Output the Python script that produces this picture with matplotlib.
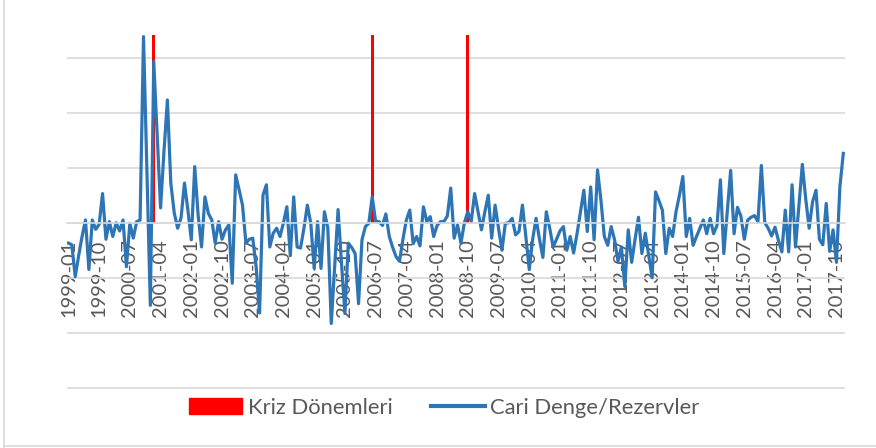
import numpy as np
import pandas as pd
import matplotlib
matplotlib.use("Agg")
import matplotlib.pyplot as plt
from matplotlib.lines import Line2D
from matplotlib.patches import Patch

# monthly categories 1999-01 .. 2017-12
months = pd.period_range("1999-01", "2017-12", freq="M").strftime("%Y-%m").tolist()

# Cari Denge/Rezervler (one gridline = 1)
cari_1999_2004 = [
    -0.37, -0.40, -0.98, -0.60, -0.25, 0.05, -0.85, 0.05, -0.12, -0.03, 0.53, -0.30,
    0.02, -0.25, 0.00, -0.15, 0.05, -0.80, -0.01, -0.28, 0.02, 0.05, 3.38, 0.90,
    -1.50, 2.93, 1.60, 0.27, 1.30, 2.23, 0.72, 0.18, -0.10, 0.09, 0.72, 0.23,
    -0.31, 1.02, 0.14, -0.44, 0.47, 0.17, 0.05, -0.37, 0.02, -0.30, -0.13, -0.04,
    -1.10, 0.87, 0.60, 0.32, -0.37, -0.30, -0.28, -0.80, -1.64, 0.50, 0.69, -0.44,
    -0.19, -0.10, -0.25, 0.00, 0.29, -0.60, 0.47, -0.44, -0.46, -0.10, 0.32, -0.01,
]
cari_2005_2010 = [
    -0.83, 0.02, -0.83, 0.20, -0.10, -1.83, -0.80, 0.24, -0.74, -1.65, -0.37, -0.45,
    -0.56, -1.47, -0.31, -0.07, -0.01, 0.47, 0.02, 0.02, -0.05, 0.16, -0.25, -0.45,
    -0.62, -0.70, -0.30, 0.05, 0.23, -0.38, -0.25, -0.42, 0.29, 0.02, 0.11, -0.25,
    -0.05, 0.02, 0.02, 0.12, 0.63, -0.28, -0.04, -0.37, 0.00, 0.20, 0.02, 0.53,
    0.20, -0.13, 0.20, 0.50, -0.28, 0.32, -0.10, -0.50, -0.01, 0.00, 0.08, -0.22,
    -0.16, 0.32, -0.25, -0.85, -0.30, 0.08, -0.30, -0.63, 0.20, -0.10, -0.44, -0.30,
]
cari_2011_2017 = [
    -0.15, -0.07, -0.50, -0.25, -0.55, -0.20, 0.20, 0.59, -0.16, 0.65, -0.31, 0.96,
    0.41, -0.25, -0.41, -0.07, -0.31, -0.70, -0.44, -1.16, -0.13, -0.72, -0.30, 0.10,
    -0.56, -0.19, -0.60, -1.00, 0.56, 0.40, 0.23, -0.56, -0.10, -0.25, 0.20, 0.50,
    0.84, -0.25, 0.08, -0.41, -0.25, -0.10, 0.05, -0.20, 0.08, -0.20, -0.05, 0.78,
    -0.56, 0.20, 0.95, -0.20, 0.28, 0.12, -0.30, 0.05, 0.10, 0.13, 0.02, 1.04,
    0.00, -0.10, -0.24, -0.08, -0.32, -0.53, 0.23, -0.53, 0.69, -0.44, 0.30, 1.06,
    0.43, -0.10, 0.38, 0.59, -0.30, -0.40, 0.35, -0.52, -0.13, -0.72, 0.65, 1.26,
]
cari = cari_1999_2004 + cari_2005_2010 + cari_2011_2017

crisis_months = ["2001-02", "2006-06", "2008-10"]

YMIN, YMAX = -3.02, 3.41
BLUE = "#2E75B6"
RED = "#FF0000"
GRID = "#D9D9D9"
TEXT = "#595959"
FONT = "Lato"

x = np.arange(len(months))
crisis = np.array([1 if m in crisis_months else 0 for m in months]) * YMAX

fig = plt.figure(figsize=(8.76, 4.48), dpi=100)
ax = fig.add_axes([66.7 / 876, 1 - 389 / 448, (845 - 66.7) / 876, (389 - 35) / 448])

ax.bar(x, crisis, width=0.85, color=RED, zorder=1.8)
ax.plot(x, cari, color=BLUE, lw=2.3, solid_joinstyle="round", zorder=2)

ax.set_xlim(-0.5, len(months) - 0.5)
ax.set_ylim(YMIN, YMAX)
ax.set_yticks(np.arange(-3, 4, 1))
ax.tick_params(axis="y", left=False, labelleft=False)
ax.grid(axis="y", color=GRID, lw=1.2)

for s in ["top", "right", "left"]:
    ax.spines[s].set_visible(False)
ax.spines["bottom"].set_position(("data", 0))
ax.spines["bottom"].set_color(GRID)
ax.spines["bottom"].set_linewidth(1.2)

tick_pos = x[::9]
ax.set_xticks(tick_pos)
ax.set_xticklabels([months[i] for i in tick_pos], rotation=90, fontsize=14.5,
                   color=TEXT, family=FONT)
ax.tick_params(axis="x", length=0, pad=12)

handles = [Patch(facecolor=RED, edgecolor=RED),
           Line2D([0], [0], color=BLUE, lw=3)]
fig.legend(handles, ["Kriz Dönemleri", "Cari Denge/Rezervler"], loc="center",
           bbox_to_anchor=(444 / 876, 1 - 408 / 448), ncol=2, frameon=False,
           prop={"family": FONT, "size": 15.8}, labelcolor=TEXT,
           handlelength=2.45, handleheight=0.75, handletextpad=0.25,
           columnspacing=1.75)

# chart area border (left and bottom edges visible)
fig.add_artist(Line2D([4 / 876, 4 / 876], [0, 1], color=GRID, lw=1.2))
fig.add_artist(Line2D([4 / 876, 1], [1 - 446 / 448] * 2, color=GRID, lw=1.2))

fig.savefig("out.png", dpi=100)
